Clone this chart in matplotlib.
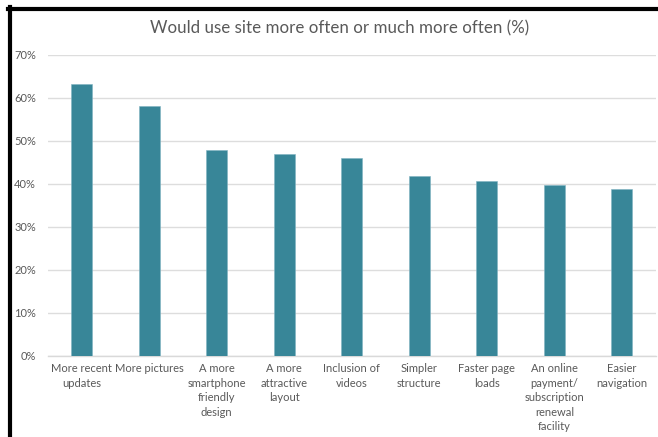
import matplotlib
matplotlib.use("Agg")
import matplotlib.pyplot as plt
from matplotlib.lines import Line2D

categories = ["More recent\nupdates", "More pictures", "A more\nsmartphone\nfriendly\ndesign",
              "A more\nattractive\nlayout", "Inclusion of\nvideos", "Simpler\nstructure",
              "Faster page\nloads", "An online\npayment/\nsubscription\nrenewal\nfacility",
              "Easier\nnavigation"]
values = [63.2, 58.1, 47.9, 46.8, 45.9, 41.8, 40.7, 39.8, 38.7]
yticks = [0, 10, 20, 30, 40, 50, 60, 70]
ytick_labels = [f"{v}%" for v in yticks]
title = "Would use site more often or much more often (%)"

plt.rcParams['font.family'] = ['Lato', 'DejaVu Sans']
W, H = 658, 437
fig = plt.figure(figsize=(W/100, H/100), dpi=100)
ax = fig.add_axes([47.7/W, 1-355.7/H, (655.7-47.7)/W, (355.7-54.7)/H])

x = list(range(len(categories)))
ax.bar(x, values, width=0.31, color="#388698", edgecolor="#7fb3c2", linewidth=0.4, zorder=3)
ax.set_xlim(-0.5, len(categories)-0.5)
ax.set_ylim(0, 70)
ax.set_yticks(yticks)
ax.set_yticklabels(ytick_labels, fontsize=8, color="#595959")
ax.set_xticks(x)
ax.set_xticklabels(categories, fontsize=8, color="#595959", linespacing=1.38, va="top")
ax.tick_params(axis="both", length=0)
ax.tick_params(axis="y", pad=8.4)
ax.tick_params(axis="x", pad=5.5)
ax.grid(axis="y", color="#DDDDDD", linewidth=1, zorder=0)
for s in ["top", "right", "left"]:
    ax.spines[s].set_visible(False)
ax.spines["bottom"].set_color("#D9D9D9")
ax.spines["bottom"].set_linewidth(1)

fig.text(340/W, 1-28.5/H, title, ha="center", va="center", fontsize=12.2, color="#595959")

# black frame lines (left and top)
fig.add_artist(Line2D([9.5/W, 9.5/W], [0, 1-7/H], color="black", linewidth=3, transform=fig.transFigure))
fig.add_artist(Line2D([8/W, 1], [1-8.5/H, 1-8.5/H], color="black", linewidth=3, transform=fig.transFigure))

fig.savefig("out.png", dpi=100)
